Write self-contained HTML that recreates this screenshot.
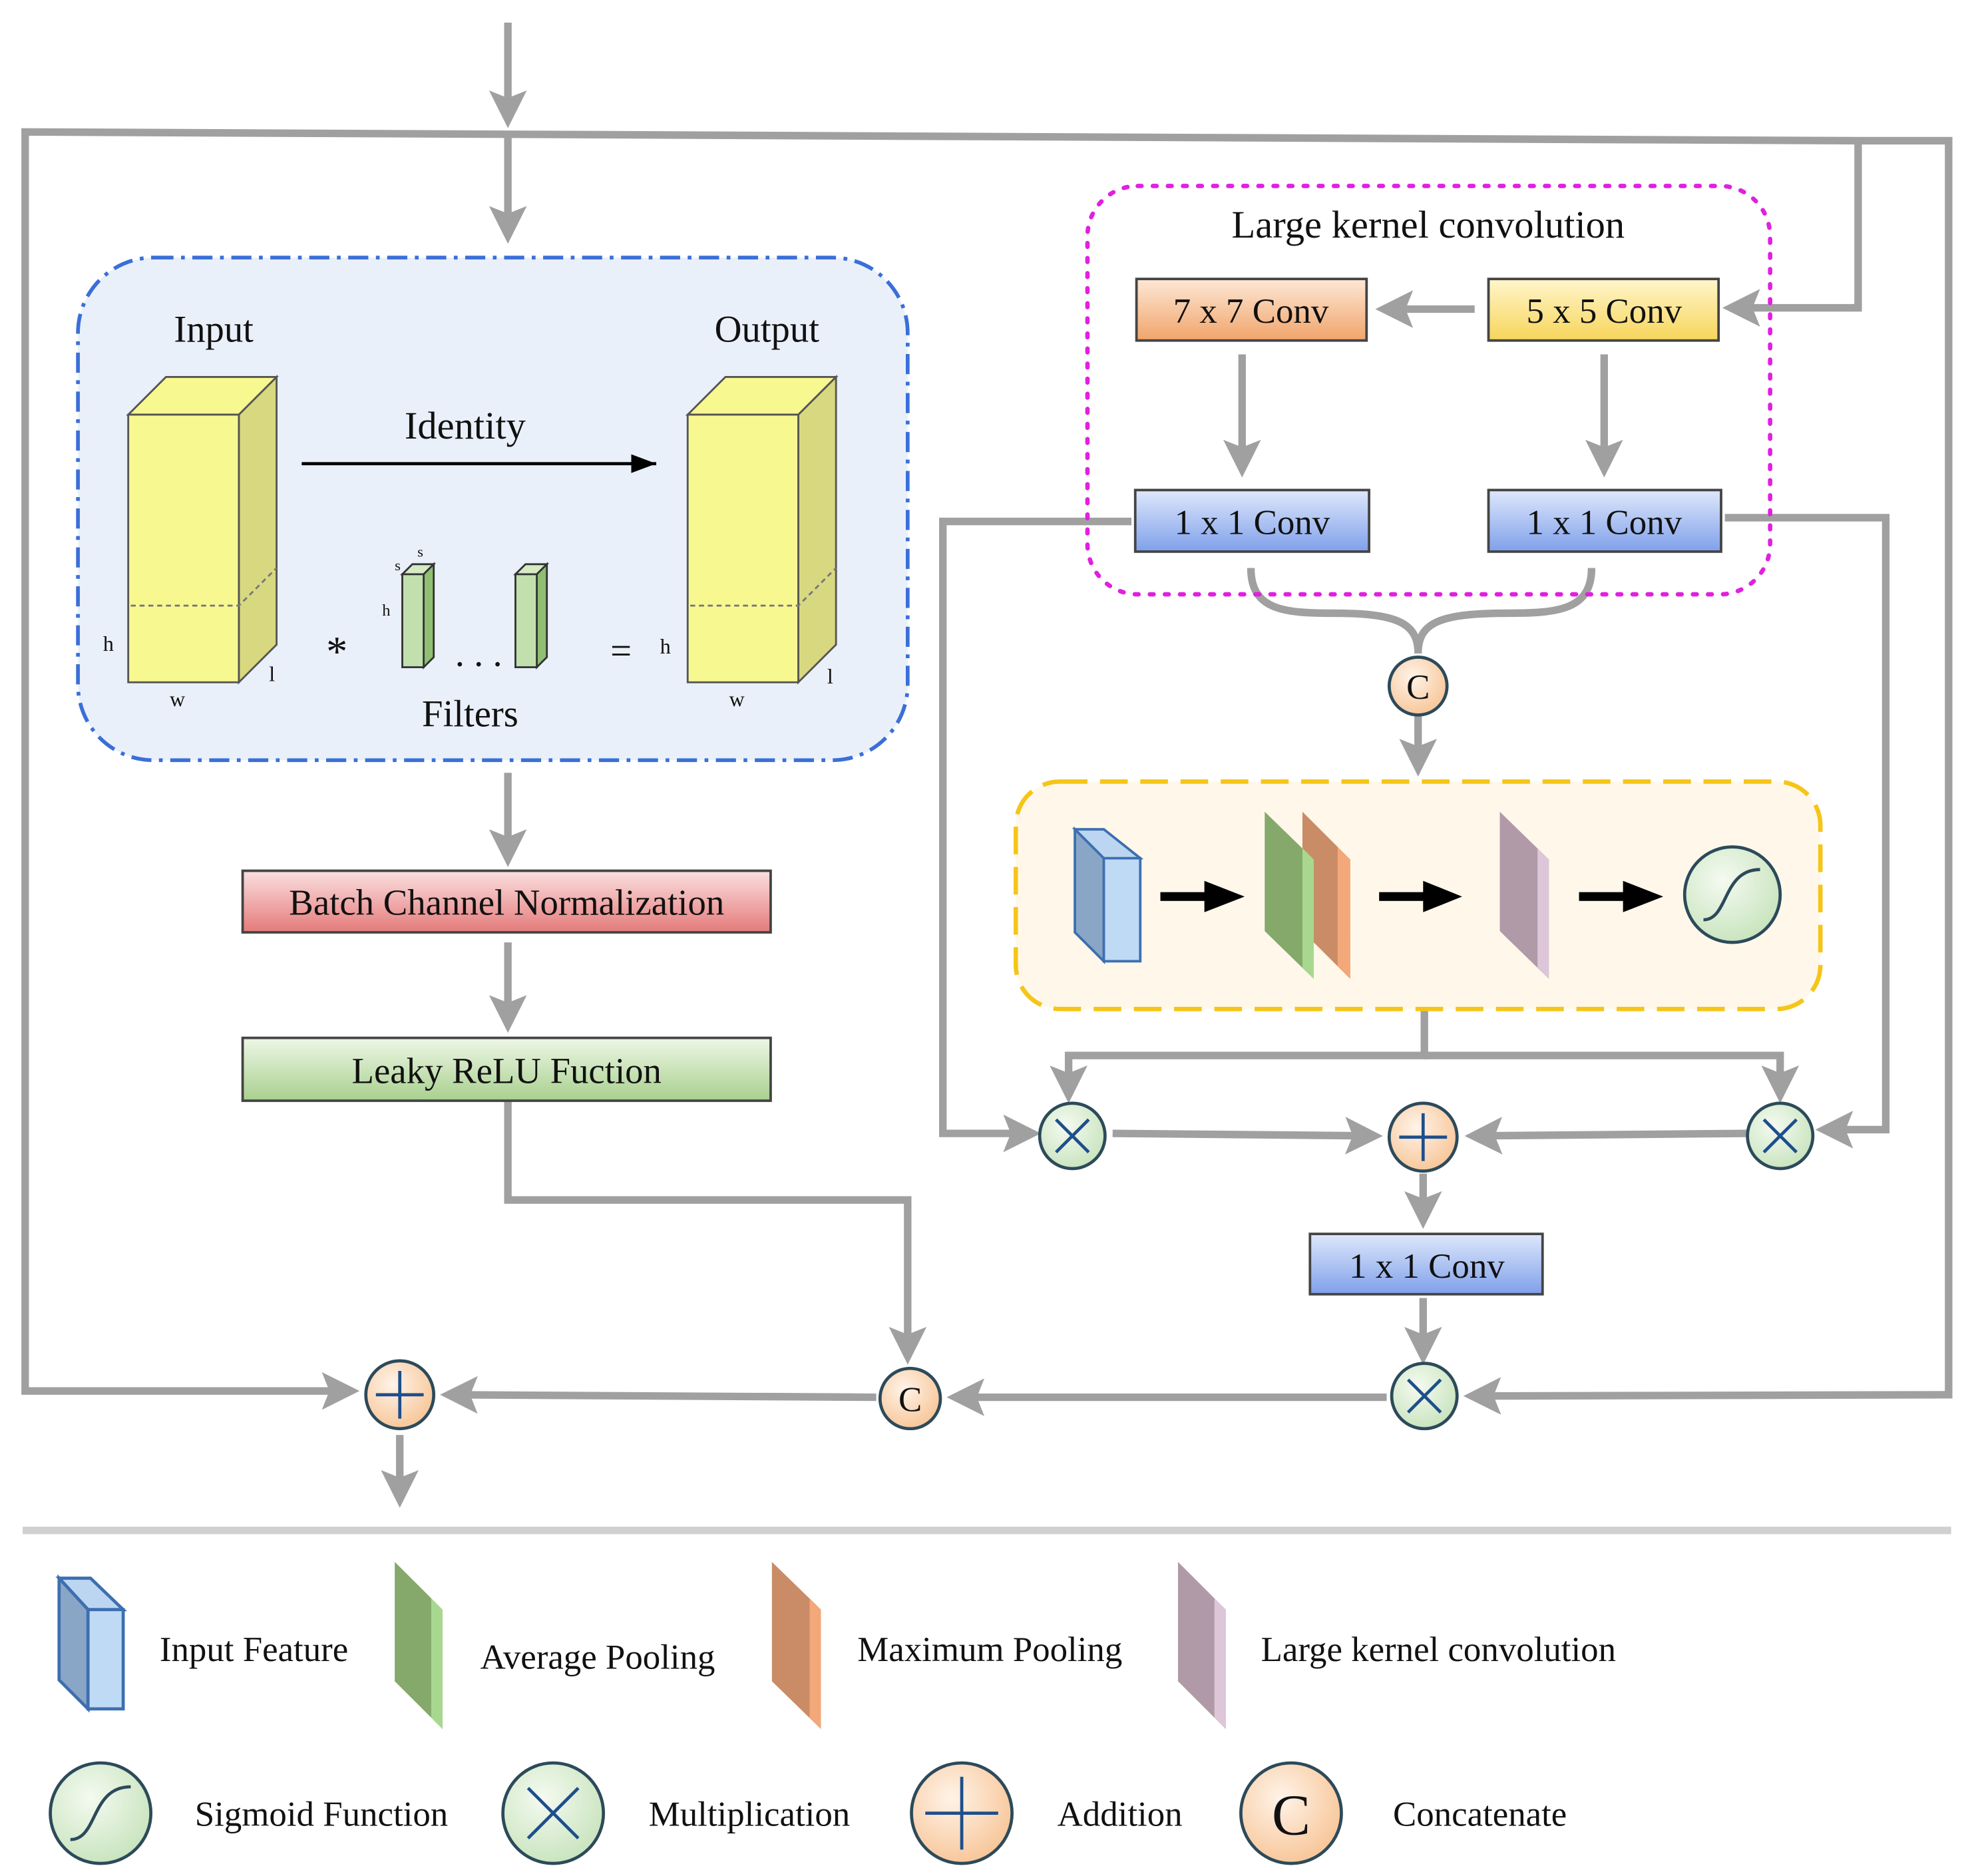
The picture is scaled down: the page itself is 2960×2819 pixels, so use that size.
<!DOCTYPE html>
<html><head><meta charset="utf-8"><style>html,body{margin:0;padding:0;background:#fff}svg{display:block}text{font-family:"Liberation Serif",serif;fill:#111}</style></head><body>
<svg width="2960" height="2819" viewBox="0 0 1567 1493" preserveAspectRatio="none" xmlns="http://www.w3.org/2000/svg">
<defs>
<marker id="ag" markerWidth="5" markerHeight="5" refX="4" refY="2.5" orient="auto" markerUnits="strokeWidth"><path d="M0,0 L5,2.5 L0,5 L1,2.5 z" fill="#a0a0a0"/></marker>
<marker id="ab" markerWidth="8" markerHeight="6" refX="8" refY="3" orient="auto" markerUnits="strokeWidth"><path d="M0,0 L8,3 L0,6 z" fill="#000"/></marker>
<linearGradient id="gr" x1="0" y1="0" x2="0" y2="1"><stop offset="0" stop-color="#fbe0e0"/><stop offset="1" stop-color="#e47a7a"/></linearGradient>
<linearGradient id="gg" x1="0" y1="0" x2="0" y2="1"><stop offset="0" stop-color="#eef7e6"/><stop offset="1" stop-color="#a8d08e"/></linearGradient>
<linearGradient id="gb" x1="0" y1="0" x2="0" y2="1"><stop offset="0" stop-color="#dfe8fb"/><stop offset="1" stop-color="#7fa0ea"/></linearGradient>
<linearGradient id="go" x1="0" y1="0" x2="0" y2="1"><stop offset="0" stop-color="#fde8d6"/><stop offset="1" stop-color="#f1a46a"/></linearGradient>
<linearGradient id="gy" x1="0" y1="0" x2="0" y2="1"><stop offset="0" stop-color="#fff6cc"/><stop offset="1" stop-color="#f7d55a"/></linearGradient>
<radialGradient id="cm" cx="0.4" cy="0.35" r="0.7"><stop offset="0" stop-color="#f4faf0"/><stop offset="1" stop-color="#c7e3bc"/></radialGradient>
<radialGradient id="co" cx="0.4" cy="0.35" r="0.7"><stop offset="0" stop-color="#fff3e8"/><stop offset="1" stop-color="#f7c495"/></radialGradient>
</defs>
<g fill="none" stroke="#a0a0a0" stroke-width="6">
<line x1="404" y1="18" x2="404" y2="96" marker-end="url(#ag)"/>
<polyline points="1478,112 20,105 20,1107 280,1107" marker-end="url(#ag)"/>
<polyline points="1478,112 1550,112 1550,1110 1170,1111" marker-end="url(#ag)"/>
<polyline points="1478,112 1478,245 1376,245" marker-end="url(#ag)"/>
<line x1="404" y1="108" x2="404" y2="188" marker-end="url(#ag)"/>
<line x1="404" y1="615" x2="404" y2="684" marker-end="url(#ag)"/>
<line x1="404" y1="750" x2="404" y2="816" marker-end="url(#ag)"/>
<polyline points="404,876 404,955 722,955 722,1080" marker-end="url(#ag)"/>
<line x1="697" y1="1112" x2="356" y2="1110" marker-end="url(#ag)"/>
<line x1="318" y1="1142" x2="318" y2="1194" marker-end="url(#ag)"/>
<line x1="1173" y1="246" x2="1100" y2="246" marker-end="url(#ag)"/>
<line x1="988" y1="282" x2="988" y2="374" marker-end="url(#ag)"/>
<line x1="1276" y1="282" x2="1276" y2="374" marker-end="url(#ag)"/>
<path d="M995,452 C995,485 1020,488 1060,488 C1110,488 1128,495 1128,520"/>
<path d="M1266,452 C1266,485 1240,488 1200,488 C1146,488 1128,495 1128,520"/>
<line x1="1128" y1="570" x2="1128" y2="612" marker-end="url(#ag)"/>
<polyline points="1133,803 1133,840 850,840 850,872" marker-end="url(#ag)"/>
<polyline points="1133,840 1416,840 1416,872" marker-end="url(#ag)"/>
<polyline points="900,415 750,415 750,902 822,902" marker-end="url(#ag)"/>
<polyline points="1372,412 1500,412 1500,899 1450,899" marker-end="url(#ag)"/>
<line x1="885" y1="902" x2="1094" y2="904" marker-end="url(#ag)"/>
<line x1="1390" y1="902" x2="1171" y2="904" marker-end="url(#ag)"/>
<line x1="1132" y1="934" x2="1132" y2="972" marker-end="url(#ag)"/>
<line x1="1132" y1="1033" x2="1132" y2="1080" marker-end="url(#ag)"/>
<line x1="1103" y1="1112" x2="759" y2="1112" marker-end="url(#ag)"/>
</g>
<line x1="18" y1="1218" x2="1552" y2="1218" stroke="#d0d0d0" stroke-width="6"/>
<rect x="62" y="205" width="660" height="400" rx="60" fill="#eaf0f9" stroke="#3a6fd8" stroke-width="3" stroke-dasharray="16,6,3,6"/>
<text x="170" y="272" font-size="30" text-anchor="middle">Input</text>
<text x="610" y="272" font-size="30" text-anchor="middle">Output</text>
<g stroke="#555" stroke-width="1.5">
<polygon points="102,330 132,300 220,300 190,330" fill="#f8f890"/>
<polygon points="190,330 220,300 220,513 190,543" fill="#d8d880"/>
<rect x="102" y="330" width="88" height="213" fill="#f8f890"/>
<polygon points="547,330 577,300 665,300 635,330" fill="#f8f890"/>
<polygon points="635,330 665,300 665,513 635,543" fill="#d8d880"/>
<rect x="547" y="330" width="88" height="213" fill="#f8f890"/>
</g>
<g stroke="#777" stroke-width="1.5" stroke-dasharray="4,3"><polyline points="104,482 190,482 220,452" fill="none"/><polyline points="549,482 635,482 665,452" fill="none"/></g>
<line x1="240" y1="369" x2="522" y2="369" stroke="#000" stroke-width="2.5" marker-end="url(#ab)"/>
<text x="370" y="349" font-size="31" text-anchor="middle">Identity</text>
<g stroke="#333" stroke-width="1.5">
<polygon points="320,457 328,449 345,449 337,457" fill="#d5ebc4"/><polygon points="337,457 345,449 345,523 337,531" fill="#8fbf72"/><rect x="320" y="457" width="17" height="74" fill="#c2e0ae"/>
<polygon points="410,457 418,449 435,449 427,457" fill="#d5ebc4"/><polygon points="427,457 435,449 435,523 427,531" fill="#8fbf72"/><rect x="410" y="457" width="17" height="74" fill="#c2e0ae"/>
</g>
<text x="362" y="530" font-size="30">. . .</text>
<text x="268" y="530" font-size="34" text-anchor="middle">*</text>
<text x="494" y="528" font-size="30" text-anchor="middle">=</text>
<text x="374" y="578" font-size="30" text-anchor="middle">Filters</text>
<g font-size="17"><text x="82" y="518">h</text><text x="135" y="562">w</text><text x="214" y="542">l</text><text x="525" y="520">h</text><text x="580" y="562">w</text><text x="658" y="544">l</text><text x="304" y="490" font-size="13">h</text><text x="314" y="454" font-size="12">s</text><text x="332" y="443" font-size="12">s</text></g>
<rect x="193" y="693" width="420" height="49" fill="url(#gr)" stroke="#444" stroke-width="2"/>
<text x="403" y="728" font-size="29" text-anchor="middle">Batch Channel Normalization</text>
<rect x="193" y="826" width="420" height="50" fill="url(#gg)" stroke="#444" stroke-width="2"/>
<text x="403" y="862" font-size="29" text-anchor="middle">Leaky ReLU Fuction</text>
<rect x="865" y="148" width="543" height="325" rx="40" fill="none" stroke="#e020e0" stroke-width="3.5" stroke-dasharray="3,9" stroke-linecap="round"/>
<text x="1136" y="189" font-size="31" text-anchor="middle">Large kernel convolution</text>
<rect x="904" y="222" width="183" height="49" fill="url(#go)" stroke="#444" stroke-width="2"/>
<text x="995" y="257" font-size="28" text-anchor="middle">7 x 7 Conv</text>
<rect x="1184" y="222" width="183" height="49" fill="url(#gy)" stroke="#444" stroke-width="2"/>
<text x="1276" y="257" font-size="28" text-anchor="middle">5 x 5 Conv</text>
<rect x="903" y="390" width="186" height="49" fill="url(#gb)" stroke="#444" stroke-width="2"/>
<text x="996" y="425" font-size="28" text-anchor="middle">1 x 1 Conv</text>
<rect x="1184" y="390" width="185" height="49" fill="url(#gb)" stroke="#444" stroke-width="2"/>
<text x="1276" y="425" font-size="28" text-anchor="middle">1 x 1 Conv</text>
<rect x="808" y="622" width="640" height="181" rx="35" fill="#fff8ea" stroke="#f5c518" stroke-width="3.5" stroke-dasharray="22,10"/>
<g stroke="#3d6fb0" stroke-width="2">
<polygon points="855,660 878,660 907,683 878,685" fill="#bcd6f2"/>
<polygon points="855,660 878,683 878,765 855,742" fill="#8aa6c6"/>
<rect x="878" y="683" width="29" height="82" fill="#bfdaf5"/>
</g>
<g fill="#000">
<rect x="923" y="710" width="38" height="7"/><polygon points="958,701 990,713.5 958,726"/>
<rect x="1097" y="710" width="38" height="7"/><polygon points="1132,701 1163,713.5 1132,726"/>
<rect x="1256" y="710" width="38" height="7"/><polygon points="1291,701 1323,713.5 1291,726"/>
</g>
<polygon points="1036,646 1074,684 1074,779 1036,741" fill="#c98c66"/><polygon points="1064,674 1074,684 1074,779 1064,769" fill="#f2a878"/>
<polygon points="1006,646 1045,684 1045,779 1006,741" fill="#85a86b"/><polygon points="1036,675 1045,684 1045,779 1036,770" fill="#a8d890"/>
<polygon points="1193,646 1232,684 1232,779 1193,741" fill="#b09aa8"/><polygon points="1223,675 1232,684 1232,779 1223,770" fill="#ddc6d8"/>
<circle cx="1378" cy="712" r="38" fill="url(#cm)" stroke="#2c4a5a" stroke-width="2.5"/>
<path d="M1355,732 C1375,732 1370,692 1400,692" fill="none" stroke="#2c4a5a" stroke-width="2.5"/>
<g stroke="#2c4a5a" stroke-width="2.5">
<circle cx="1128" cy="546" r="23" fill="url(#co)"/>
<circle cx="853" cy="904" r="26" fill="url(#cm)"/><path d="M840,891 L866,917 M866,891 L840,917" fill="none" stroke="#1e4e8c"/>
<circle cx="1132" cy="905" r="27" fill="url(#co)"/><path d="M1132,886 V924 M1113,905 H1151" fill="none" stroke="#1e4e8c"/>
<circle cx="1416" cy="904" r="26" fill="url(#cm)"/><path d="M1403,891 L1429,917 M1429,891 L1403,917" fill="none" stroke="#1e4e8c"/>
<circle cx="1133" cy="1111" r="26" fill="url(#cm)"/><path d="M1120,1098 L1146,1124 M1146,1098 L1120,1124" fill="none" stroke="#1e4e8c"/>
<circle cx="724" cy="1113" r="24" fill="url(#co)"/>
<circle cx="318" cy="1110" r="27" fill="url(#co)"/><path d="M318,1091 V1129 M299,1110 H337" fill="none" stroke="#1e4e8c"/>
</g>
<text x="1128" y="556" font-size="28" text-anchor="middle">C</text>
<text x="724" y="1123" font-size="28" text-anchor="middle">C</text>
<rect x="1042" y="982" width="185" height="48" fill="url(#gb)" stroke="#444" stroke-width="2"/>
<text x="1135" y="1017" font-size="28" text-anchor="middle">1 x 1 Conv</text>
<g stroke="#3d6fb0" stroke-width="2.5">
<polygon points="47,1256 72,1256 98,1281 70,1281" fill="#bcd6f2"/>
<polygon points="47,1256 70,1281 70,1360 47,1337" fill="#8aa6c6"/>
<rect x="70" y="1281" width="28" height="79" fill="#bfdaf5"/>
</g>
<text x="127" y="1322" font-size="28">Input Feature</text>
<polygon points="314,1243 352,1281 352,1376 314,1338" fill="#85a86b"/><polygon points="343,1272 352,1281 352,1376 343,1367" fill="#a8d890"/>
<text x="382" y="1328" font-size="28">Average Pooling</text>
<polygon points="614,1243 653,1281 653,1376 614,1338" fill="#c98c66"/><polygon points="644,1272 653,1281 653,1376 644,1367" fill="#f2a878"/>
<text x="682" y="1322" font-size="28">Maximum Pooling</text>
<polygon points="937,1243 975,1281 975,1376 937,1338" fill="#b09aa8"/><polygon points="966,1272 975,1281 975,1376 966,1367" fill="#ddc6d8"/>
<text x="1003" y="1322" font-size="28">Large kernel convolution</text>
<g stroke="#2c4a5a" stroke-width="2.5">
<circle cx="80" cy="1443" r="40" fill="url(#cm)"/><path d="M56,1464 C78,1464 72,1422 104,1422" fill="none"/>
<circle cx="440" cy="1443" r="40" fill="url(#cm)"/><path d="M420,1423 L460,1463 M460,1423 L420,1463" fill="none" stroke="#1e4e8c"/>
<circle cx="765" cy="1443" r="40" fill="url(#co)"/><path d="M765,1414 V1472 M736,1443 H794" fill="none" stroke="#1e4e8c"/>
<circle cx="1027" cy="1443" r="40" fill="url(#co)"/>
</g>
<text x="1027" y="1460" font-size="46" text-anchor="middle">C</text>
<text x="155" y="1453" font-size="28">Sigmoid Function</text>
<text x="516" y="1453" font-size="28">Multiplication</text>
<text x="841" y="1453" font-size="28">Addition</text>
<text x="1108" y="1453" font-size="28">Concatenate</text>
</svg>
</body></html>
